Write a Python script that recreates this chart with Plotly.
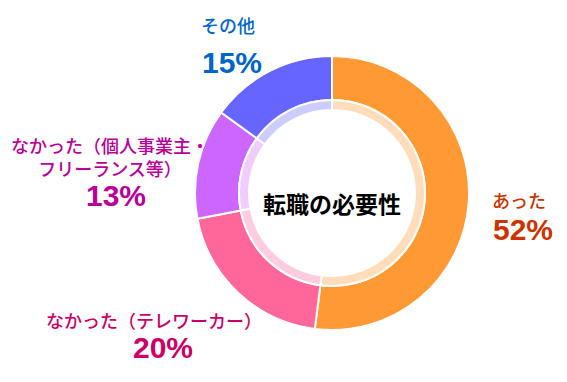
import plotly.graph_objects as go

categories = ["あった", "なかった（テレワーカー）", "なかった（個人事業主・フリーランス等）", "その他"]
values = [52, 20, 13, 15]
label_lines = [["あった"], ["なかった（テレワーカー）"], ["なかった（個人事業主・", "フリーランス等）"], ["その他"]]
center_title = "転職の必要性"

outer_colors = ["#FF9933", "#FF6699", "#CC66FF", "#6666FF"]
inner_colors = ["#FFDDBB", "#FFCCE0", "#F0CCFF", "#CCCCFF"]
text_colors = ["#CC3300", "#CC0066", "#BB0099", "#0066CC"]

OFF = 8  # page body margin
W, H = 567 - OFF, 382 - OFF
cx, cy = 332 - OFF, 193 - OFF
R_out, R_mid, R_in = 137, 93, 83

def dom(r):
    return dict(x=[(cx - r) / W, (cx + r) / W], y=[(H - cy - r) / H, (H - cy + r) / H])

fig = go.Figure()
fig.add_trace(go.Pie(labels=categories, values=values, sort=False, direction="clockwise",
                     rotation=0, hole=R_mid / R_out, domain=dom(R_out),
                     marker=dict(colors=outer_colors, line=dict(color="white", width=2)),
                     textinfo="none", hoverinfo="label+percent", showlegend=False))
fig.add_trace(go.Pie(labels=categories, values=values, sort=False, direction="clockwise",
                     rotation=0, hole=R_in / R_mid, domain=dom(R_mid),
                     marker=dict(colors=inner_colors, line=dict(color="white", width=2)),
                     textinfo="none", hoverinfo="skip", showlegend=False))

# label positions in reference pixels: (label x, label center y, pct x, pct y)
positions = [(519, 200, 523, 229), (154, 320, 163, 347), (110, 156.5, 116, 195), (228, 25, 232, 62)]
jp_font = "Noto Sans CJK JP"
for i, (lx, ly, px, py) in enumerate(positions):
    fig.add_annotation(x=(lx - OFF) / W, y=1 - (ly - OFF) / H, xref="paper", yref="paper",
                       text="<br>".join(label_lines[i]), showarrow=False,
                       xanchor="center", yanchor="middle", align="center",
                       font=dict(family=jp_font, size=18, color=text_colors[i], weight=500))
    fig.add_annotation(x=(px - OFF) / W, y=1 - (py - OFF) / H, xref="paper", yref="paper",
                       text=f"<b>{values[i]}%</b>", showarrow=False, xanchor="center", yanchor="middle",
                       font=dict(family="Liberation Sans, Arial", size=30, color=text_colors[i]))

fig.add_annotation(x=cx / W, y=1 - (203 - OFF) / H, xref="paper", yref="paper",
                   text=f"<b>{center_title}</b>", showarrow=False, xanchor="center", yanchor="middle",
                   font=dict(family=jp_font, size=23, color="black"))

fig.update_layout(width=W, height=H, margin=dict(l=0, r=0, t=0, b=0),
                  paper_bgcolor="white", plot_bgcolor="white")
fig.write_html("out.html")
